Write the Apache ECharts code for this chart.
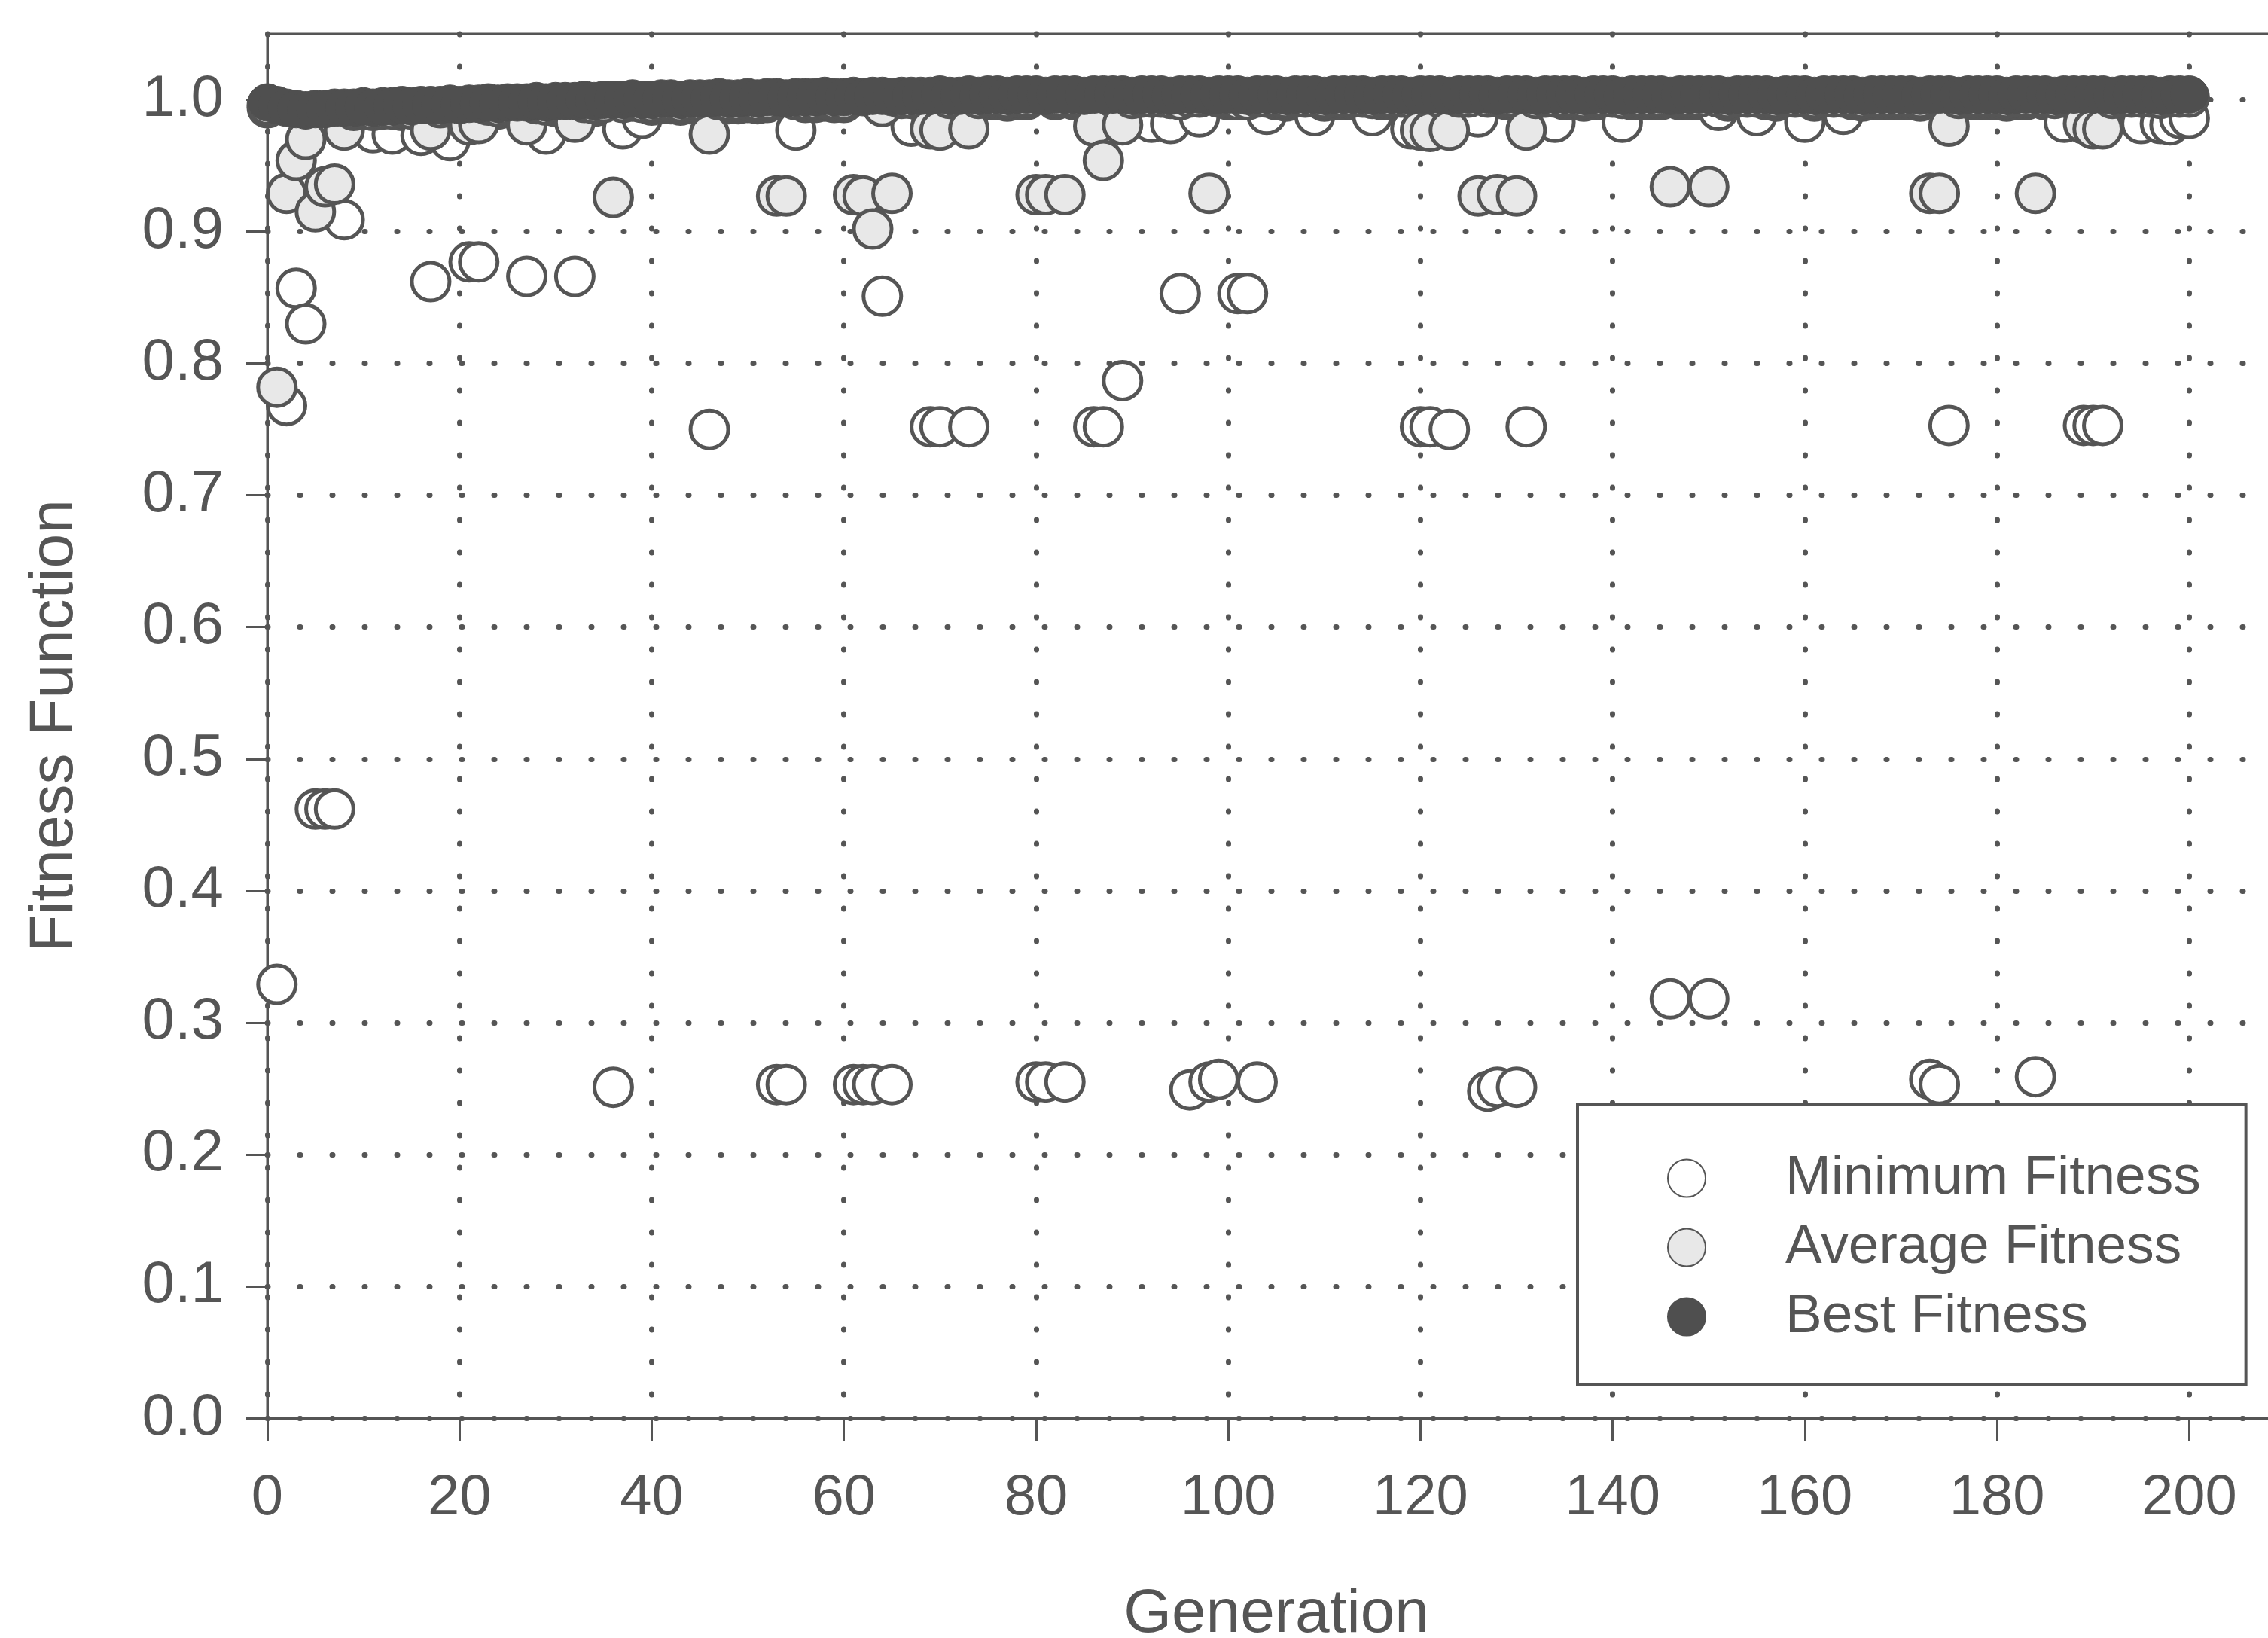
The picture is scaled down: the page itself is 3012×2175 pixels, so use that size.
<!DOCTYPE html>
<html>
<head>
<meta charset="utf-8">
<script src="https://cdn.jsdelivr.net/npm/echarts@6/dist/echarts.min.js"></script>
<style>
  html, body { margin: 0; padding: 0; background: #ffffff; }
  #chart { width: 3012px; height: 2175px; }
</style>
</head>
<body>
<div id="chart"></div>
<script>
// one value per generation, index = generation number (0..200)
const bestFitness = [
  0.998, 0.996, 0.994, 0.993, 0.992, 0.993, 0.993, 0.994, 0.994, 0.994,
  0.995, 0.994, 0.995, 0.995, 0.996, 0.995, 0.996, 0.996, 0.996, 0.997,
  0.996, 0.997, 0.997, 0.998, 0.997, 0.998, 0.998, 0.998, 0.999, 0.998,
  0.999, 0.999, 0.999, 1.000, 0.999, 1.000, 1.000, 1.000, 1.001, 1.000,
  1.000, 1.001, 1.001, 1.000, 1.001, 1.001, 1.001, 1.002, 1.001, 1.001,
  1.002, 1.001, 1.002, 1.002, 1.001, 1.002, 1.002, 1.002, 1.003, 1.002,
  1.002, 1.003, 1.002, 1.003, 1.003, 1.002, 1.003, 1.003, 1.003, 1.003,
  1.004, 1.003, 1.003, 1.004, 1.003, 1.004, 1.004, 1.003, 1.004, 1.004,
  1.004, 1.003, 1.004, 1.004, 1.004, 1.003, 1.004, 1.004, 1.004, 1.004,
  1.003, 1.004, 1.004, 1.004, 1.003, 1.004, 1.004, 1.004, 1.003, 1.004,
  1.004, 1.004, 1.003, 1.004, 1.004, 1.004, 1.003, 1.004, 1.004, 1.004,
  1.003, 1.004, 1.004, 1.004, 1.004, 1.003, 1.004, 1.004, 1.004, 1.003,
  1.004, 1.004, 1.004, 1.003, 1.004, 1.004, 1.004, 1.004, 1.003, 1.004,
  1.004, 1.004, 1.003, 1.004, 1.004, 1.004, 1.004, 1.003, 1.004, 1.004,
  1.004, 1.003, 1.004, 1.004, 1.004, 1.004, 1.003, 1.004, 1.004, 1.004,
  1.004, 1.004, 1.003, 1.004, 1.004, 1.004, 1.004, 1.003, 1.004, 1.004,
  1.004, 1.003, 1.004, 1.004, 1.004, 1.004, 1.003, 1.004, 1.004, 1.004,
  1.004, 1.004, 1.003, 1.004, 1.004, 1.004, 1.003, 1.004, 1.004, 1.004,
  1.004, 1.003, 1.004, 1.004, 1.004, 1.004, 1.003, 1.004, 1.004, 1.004,
  1.004, 1.004, 1.003, 1.004, 1.004, 1.004, 1.004, 1.003, 1.004, 1.004,
  1.004
];

const avgFitness = [
  0.996, 0.782, 0.929, 0.954, 0.970, 0.915, 0.934, 0.936, 0.977, 0.992,
  0.993, 0.992, 0.993, 0.993, 0.994, 0.993, 0.994, 0.977, 0.994, 0.995,
  0.994, 0.981, 0.982, 0.996, 0.995, 0.996, 0.996, 0.981, 0.997, 0.996,
  0.997, 0.997, 0.983, 0.998, 0.997, 0.998, 0.926, 0.998, 0.999, 0.998,
  0.998, 0.999, 0.999, 0.998, 0.999, 0.999, 0.974, 1.000, 0.999, 0.999,
  1.000, 0.999, 1.000, 0.927, 0.927, 1.000, 1.000, 1.000, 1.001, 1.000,
  1.000, 0.928, 0.927, 0.902, 0.995, 0.929, 1.001, 1.001, 1.001, 0.978,
  0.977, 1.001, 1.001, 0.978, 1.001, 1.002, 1.002, 1.001, 1.002, 1.002,
  0.928, 0.928, 1.002, 0.928, 1.002, 1.001, 0.980, 0.954, 1.002, 0.981,
  1.001, 1.002, 1.002, 1.002, 1.001, 1.000, 1.002, 1.002, 0.929, 1.002,
  1.002, 1.000, 1.000, 1.002, 1.002, 1.002, 1.001, 1.002, 1.002, 1.002,
  1.001, 1.002, 1.002, 1.002, 1.002, 1.001, 1.002, 1.002, 1.002, 1.001,
  0.977, 0.976, 1.002, 0.977, 1.002, 1.002, 0.927, 1.002, 0.928, 1.002,
  0.927, 0.977, 1.001, 1.002, 1.002, 1.002, 1.002, 1.001, 1.002, 1.002,
  1.002, 1.001, 1.002, 1.002, 1.002, 1.002, 0.934, 1.002, 1.002, 1.002,
  0.934, 1.002, 1.001, 1.002, 1.002, 1.002, 1.002, 1.001, 1.002, 1.002,
  1.002, 1.001, 1.002, 1.002, 1.002, 1.002, 1.001, 1.002, 1.002, 1.002,
  1.002, 1.002, 1.001, 0.929, 0.929, 0.980, 1.001, 1.002, 1.002, 1.002,
  1.002, 1.001, 1.002, 1.002, 0.929, 1.002, 1.001, 1.002, 1.002, 0.982,
  0.978, 0.978, 1.001, 1.002, 1.002, 1.002, 1.002, 1.001, 1.002, 1.002,
  1.002
];

const minFitness = [
  0.994, 0.329, 0.768, 0.857, 0.830, 0.462, 0.462, 0.462, 0.909, 0.990,
  0.991, 0.975, 0.991, 0.974, 0.992, 0.991, 0.973, 0.862, 0.992, 0.969,
  0.992, 0.877, 0.877, 0.994, 0.993, 0.994, 0.994, 0.866, 0.995, 0.974,
  0.995, 0.995, 0.866, 0.996, 0.995, 0.996, 0.251, 0.978, 0.997, 0.986,
  0.996, 0.997, 0.997, 0.996, 0.997, 0.997, 0.750, 0.998, 0.997, 0.997,
  0.998, 0.997, 0.998, 0.253, 0.253, 0.977, 0.998, 0.998, 0.999, 0.998,
  0.998, 0.253, 0.253, 0.253, 0.851, 0.253, 0.999, 0.980, 0.999, 0.752,
  0.752, 0.999, 0.999, 0.752, 0.999, 1.000, 1.000, 0.999, 1.000, 1.000,
  0.255, 0.255, 1.000, 0.255, 1.000, 0.999, 0.752, 0.752, 1.000, 0.787,
  0.999, 1.000, 0.983, 1.000, 0.982, 0.853, 0.249, 0.987, 0.255, 0.257,
  1.000, 0.853, 0.853, 0.255, 0.989, 1.000, 0.999, 1.000, 1.000, 0.988,
  0.999, 1.000, 1.000, 1.000, 1.000, 0.988, 1.000, 1.000, 1.000, 0.978,
  0.752, 0.752, 1.000, 0.750, 1.000, 1.000, 0.987, 0.248, 0.251, 1.000,
  0.251, 0.752, 0.999, 1.000, 0.983, 1.000, 1.000, 0.999, 1.000, 1.000,
  1.000, 0.983, 1.000, 1.000, 1.000, 1.000, 0.318, 1.000, 1.000, 1.000,
  0.318, 0.992, 0.999, 1.000, 1.000, 0.988, 1.000, 0.999, 1.000, 1.000,
  0.983, 0.999, 1.000, 1.000, 0.989, 1.000, 0.999, 1.000, 1.000, 1.000,
  1.000, 1.000, 0.999, 0.257, 0.253, 0.753, 0.999, 1.000, 1.000, 1.000,
  1.000, 0.999, 1.000, 1.000, 0.259, 1.000, 0.999, 0.983, 1.000, 0.753,
  0.753, 0.753, 0.999, 1.000, 1.000, 0.982, 1.000, 0.982, 0.981, 0.986,
  0.986
];

const yTicks = [0, 0.1, 0.2, 0.3, 0.4, 0.5, 0.6, 0.7, 0.8, 0.9, 1.0];
const xTicks = [0, 20, 40, 60, 80, 100, 120, 140, 160, 180, 200];

const ink = "#555555";
const font = "'Liberation Sans', Arial, sans-serif";

function toPoints(values) {
  return values.map((v, gen) => [gen, v]);
}

const dotted = {
  show: true,
  lineStyle: { color: ink, width: 7, type: [1, 42], cap: "round" }
};

const option = {
  backgroundColor: "#ffffff",
  animation: false,
  textStyle: { fontFamily: font, color: ink },
  grid: {
    left: 355,
    top: 45,
    width: 2680,   // runs past the right edge, the original is cut there
    height: 1838,
    outerBoundsMode: "none",
    show: true,
    borderColor: ink,
    borderWidth: 3
  },
  legend: {
    orient: "vertical",
    left: 2095,
    top: 1467,
    padding: [61, 60, 53, 119],
    itemWidth: 50,
    itemHeight: 50,
    itemGap: 19,
    borderColor: ink,
    borderWidth: 4,
    backgroundColor: "#ffffff",
    formatter: (name) => "{g|}" + name,
    textStyle: {
      fontSize: 73,
      lineHeight: 73,
      color: ink,
      fontFamily: font,
      rich: { g: { width: 101 } }
    },
    data: ["Minimum Fitness", "Average Fitness", "Best Fitness"]
  },
  xAxis: {
    type: "value",
    min: 0,
    max: 210,
    interval: 20,
    name: "Generation",
    nameLocation: "middle",
    nameGap: 220,
    nameTextStyle: { fontSize: 82, color: ink, fontFamily: font },
    axisLine: { lineStyle: { color: ink, width: 4 } },
    axisTick: { show: true, length: 30, customValues: xTicks, lineStyle: { color: ink, width: 3 } },
    axisLabel: {
      fontSize: 76,
      color: ink,
      margin: 69,
      customValues: xTicks,
      formatter: (v) => (xTicks.indexOf(v) >= 0 ? String(v) : "")
    },
    splitLine: dotted
  },
  yAxis: {
    type: "value",
    min: 0,
    max: 1.05,
    interval: 0.1,
    name: "Fitness Function",
    nameLocation: "middle",
    nameGap: 241,
    nameTextStyle: { fontSize: 82, color: ink, fontFamily: font },
    axisLine: { show: true, lineStyle: { color: ink, width: 3 } },
    axisTick: { show: true, length: 28, customValues: yTicks, lineStyle: { color: ink, width: 3 } },
    axisLabel: {
      fontSize: 78,
      color: ink,
      margin: 58,
      customValues: yTicks,
      formatter: (v) => (v > 1.001 ? "" : v.toFixed(1))
    },
    splitLine: dotted
  },
  series: [
    {
      name: "Minimum Fitness",
      type: "scatter",
      symbol: "circle",
      symbolSize: 50,
      data: toPoints(minFitness),
      itemStyle: { color: "#ffffff", borderColor: ink, borderWidth: 5, opacity: 1 },
      emphasis: { disabled: true }
    },
    {
      name: "Average Fitness",
      type: "scatter",
      symbol: "circle",
      symbolSize: 50,
      data: toPoints(avgFitness),
      itemStyle: { color: "#e8e8e8", borderColor: ink, borderWidth: 5, opacity: 1 },
      emphasis: { disabled: true }
    },
    {
      name: "Best Fitness",
      type: "scatter",
      symbol: "circle",
      symbolSize: 50,
      data: toPoints(bestFitness),
      itemStyle: { color: "#4f4f4f", borderColor: "#4f4f4f", borderWidth: 1, opacity: 1 },
      emphasis: { disabled: true }
    }
  ]
};

const chartObj = echarts.init(document.getElementById("chart"));
chartObj.setOption(option);
window.addEventListener("resize", function() {
  chartObj.resize();
});
</script>
</body>
</html>
